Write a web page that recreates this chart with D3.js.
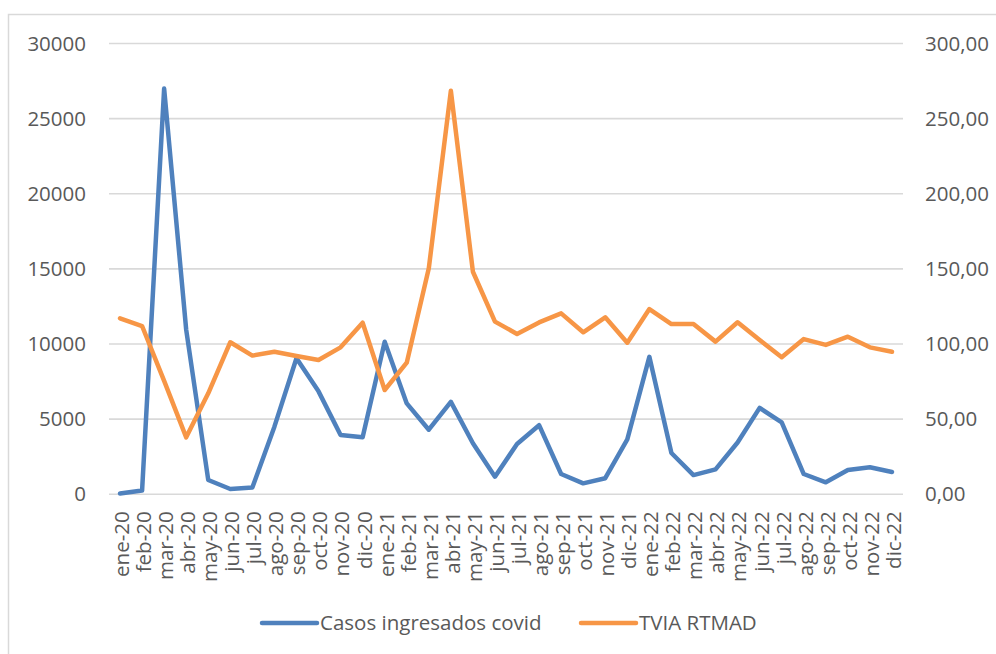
<!DOCTYPE html>
<html>
<head>
<meta charset="utf-8">
<script src="https://cdn.jsdelivr.net/npm/d3@7"></script>
<style>
  html, body { margin: 0; padding: 0; background: #fff; }
  svg { display: block; font-family: "Open Sans", sans-serif; }
</style>
</head>
<body>
<svg id="chart" width="996" height="654"></svg>
<script>
// Monthly categories, Jan 2020 – Dec 2022
const months = [
  "ene-20","feb-20","mar-20","abr-20","may-20","jun-20","jul-20","ago-20","sep-20","oct-20","nov-20","dic-20",
  "ene-21","feb-21","mar-21","abr-21","may-21","jun-21","jul-21","ago-21","sep-21","oct-21","nov-21","dic-21",
  "ene-22","feb-22","mar-22","abr-22","may-22","jun-22","jul-22","ago-22","sep-22","oct-22","nov-22","dic-22"
];

// Casos ingresados covid (left axis)
const casos = [
  50, 250, 27000, 10950, 950, 350, 450, 4500, 9050, 6850, 3950, 3800,
  10150, 6050, 4300, 6150, 3400, 1170, 3350, 4600, 1350, 730, 1070, 3650,
  9150, 2750, 1280, 1660, 3450, 5750, 4780, 1350, 800, 1620, 1800, 1480
];

// TVIA RTMAD (right axis)
const tvia = [
  117.1, 112.0, 75.5, 37.9, 67.2, 101.2, 92.3, 94.9, 92.0, 89.4, 97.8, 114.2,
  69.4, 87.6, 150.4, 268.6, 148.1, 114.9, 106.7, 114.4, 120.4, 107.8, 117.8, 100.9,
  123.3, 113.3, 113.3, 101.6, 114.5, 102.7, 91.2, 103.3, 99.4, 104.9, 97.8, 94.9
];

const leftTicks = [0, 5000, 10000, 15000, 20000, 25000, 30000];
const rightTicks = [0, 50, 100, 150, 200, 250, 300];
const seriesNames = ["Casos ingresados covid", "TVIA RTMAD"];

const colors = { casos: "#4f81bd", tvia: "#f79646", grid: "#d9d9d9", text: "#595959" };
const fontSize = "20.5px";

const svg = d3.select("#chart");
const plot = { left: 109, right: 903, top: 43.5, bottom: 494.3 };

// outer chart frame (runs off the right and bottom edges)
svg.append("rect")
  .attr("x", 8.5).attr("y", 14.5)
  .attr("width", 1100).attr("height", 800)
  .attr("fill", "none")
  .attr("stroke", colors.grid)
  .attr("stroke-width", 1.5);

const x = d3.scalePoint().domain(months).range([plot.left, plot.right]).padding(0.5);
const yL = d3.scaleLinear().domain([0, 30000]).range([plot.bottom, plot.top]);
const yR = d3.scaleLinear().domain([0, 300]).range([plot.bottom, plot.top]);

// horizontal gridlines
svg.append("g")
  .selectAll("line")
  .data(leftTicks)
  .join("line")
  .attr("x1", plot.left).attr("x2", plot.right)
  .attr("y1", d => yL(d)).attr("y2", d => yL(d))
  .attr("stroke", colors.grid)
  .attr("stroke-width", 1.6);

// left axis
const leftAxis = svg.append("g")
  .attr("transform", `translate(86,0)`)
  .call(d3.axisLeft(yL).tickValues(leftTicks).tickSize(0).tickPadding(0).tickFormat(d3.format("d")));
leftAxis.select(".domain").remove();
leftAxis.selectAll("text")
  .attr("fill", colors.text)
  .style("font-size", fontSize)
  .style("font-family", "Open Sans, sans-serif");

// right axis
const rightAxis = svg.append("g")
  .attr("transform", `translate(925,0)`)
  .call(d3.axisRight(yR).tickValues(rightTicks).tickSize(0).tickPadding(0)
    .tickFormat(d => d3.format(".2f")(d).replace(".", ",")));
rightAxis.select(".domain").remove();
rightAxis.selectAll("text")
  .attr("fill", colors.text)
  .style("font-size", fontSize)
  .style("font-family", "Open Sans, sans-serif");

// category axis, labels rotated
const bottomAxis = svg.append("g")
  .attr("transform", `translate(0,${plot.bottom})`)
  .call(d3.axisBottom(x).tickSize(0).tickPadding(0));
bottomAxis.select(".domain").remove();
bottomAxis.selectAll("text")
  .attr("fill", colors.text)
  .style("font-size", fontSize)
  .style("font-family", "Open Sans, sans-serif")
  .attr("text-anchor", "end")
  .attr("y", 0)
  .attr("dy", "0.36em")
  .attr("transform", "translate(1,17) rotate(-90)");

// series lines
const lineL = d3.line().x((d, i) => x(months[i])).y(d => yL(d));
const lineR = d3.line().x((d, i) => x(months[i])).y(d => yR(d));

svg.append("path")
  .datum(casos)
  .attr("d", lineL)
  .attr("fill", "none")
  .attr("stroke", colors.casos)
  .attr("stroke-width", 4.5)
  .attr("stroke-linejoin", "round")
  .attr("stroke-linecap", "round");

svg.append("path")
  .datum(tvia)
  .attr("d", lineR)
  .attr("fill", "none")
  .attr("stroke", colors.tvia)
  .attr("stroke-width", 4.5)
  .attr("stroke-linejoin", "round")
  .attr("stroke-linecap", "round");

// legend
const legendItems = [
  { name: seriesNames[0], color: colors.casos, x: 262 },
  { name: seriesNames[1], color: colors.tvia, x: 581 }
];
const lg = svg.append("g").attr("transform", "translate(0,623)");
legendItems.forEach(it => {
  lg.append("line")
    .attr("x1", it.x).attr("x2", it.x + 55)
    .attr("y1", 0).attr("y2", 0)
    .attr("stroke", it.color)
    .attr("stroke-width", 4.5)
    .attr("stroke-linecap", "round");
  lg.append("text")
    .attr("x", it.x + 58)
    .attr("y", 0)
    .attr("dy", "0.35em")
    .attr("fill", colors.text)
    .style("font-size", fontSize)
    .text(it.name);
});
</script>
</body>
</html>
